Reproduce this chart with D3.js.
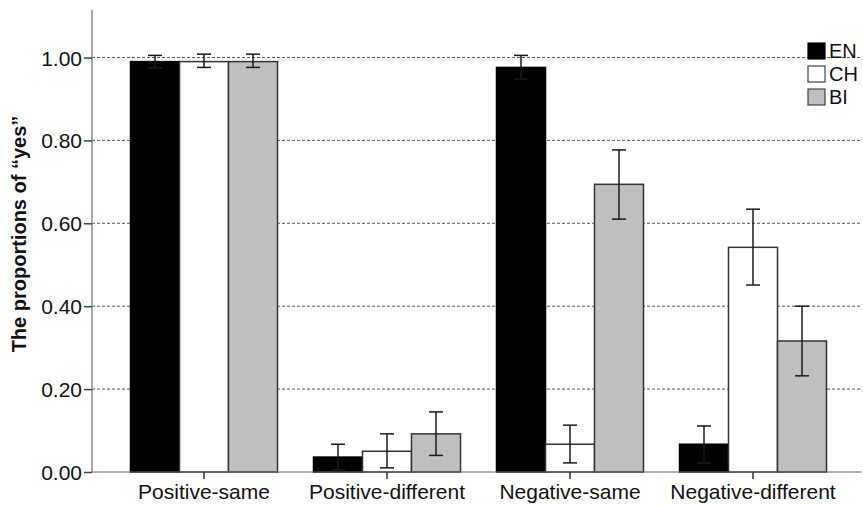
<!DOCTYPE html>
<html><head><meta charset="utf-8">
<script src="https://cdn.jsdelivr.net/npm/d3@7"></script>
<style>body{margin:0;background:#fff}</style>
</head><body><svg id="c" width="863" height="506"></svg>
<script>
const categories = ["Positive-same","Positive-different","Negative-same","Negative-different"];
const series = ["EN","CH","BI"];
const EN = [0.99, 0.036, 0.976, 0.067];
const CH = [0.99, 0.050, 0.067, 0.542];
const BI = [0.99, 0.092, 0.694, 0.316];
const EN_lo = [0.975, 0.005, 0.948, 0.022];
const EN_hi = [1.005, 0.067, 1.005, 0.111];
const CH_lo = [0.976, 0.010, 0.022, 0.451];
const CH_hi = [1.008, 0.092, 0.113, 0.634];
const BI_lo = [0.976, 0.040, 0.610, 0.232];
const BI_hi = [1.008, 0.145, 0.777, 0.400];
const yTicks = [0, 0.2, 0.4, 0.6, 0.8, 1.0];
const fills = {EN:"#000000", CH:"#ffffff", BI:"#bfbfbf"};
const vals = {EN, CH, BI};
const lo = {EN:EN_lo, CH:CH_lo, BI:BI_lo};
const hi = {EN:EN_hi, CH:CH_hi, BI:BI_hi};
const FONT = "Liberation Sans, Arial, sans-serif";

const svg = d3.select("#c");
const y = d3.scaleLinear().domain([0, 1.1145]).range([472, 10]);
const x = d3.scaleBand().domain(categories).range([112.5, 844.5]).paddingInner(0).paddingOuter(0);
const inner = d3.scaleBand().domain(series).range([0, 147]);
const gx = (c) => x(c) + (x.bandwidth() - 147) / 2;

// gridlines
svg.append("g").selectAll("line").data(yTicks.filter(d => d > 0)).join("line")
  .attr("x1", 92).attr("x2", 861).attr("y1", d => y(d)).attr("y2", d => y(d))
  .attr("stroke", "#555").attr("stroke-width", 1).attr("stroke-dasharray", "3,2");

// bars
series.forEach(s => {
  const g = svg.append("g");
  g.selectAll("rect").data(categories).join("rect")
    .attr("x", c => gx(c) + inner(s))
    .attr("width", inner.bandwidth())
    .attr("y", (c, i) => y(vals[s][i]))
    .attr("height", (c, i) => y(0) - y(vals[s][i]))
    .attr("fill", fills[s]).attr("stroke", s === "EN" ? "#000" : "#333").attr("stroke-width", 1.5);
});

// error bars
series.forEach(s => {
  const g = svg.append("g").attr("stroke-width", 1.5);
  const col = "#1a1a1a";
  categories.forEach((c, i) => {
    const cx = gx(c) + inner(s) + inner.bandwidth() / 2;
    g.append("line").attr("x1", cx).attr("x2", cx).attr("y1", y(lo[s][i])).attr("y2", y(hi[s][i])).attr("stroke", col);
    [lo[s][i], hi[s][i]].forEach(v => {
      g.append("line").attr("x1", cx - 7).attr("x2", cx + 7).attr("y1", y(v)).attr("y2", y(v)).attr("stroke", col);
    });
  });
});

// y axis
const ya = svg.append("g").attr("transform", "translate(92,0)")
  .call(d3.axisLeft(y).tickValues(yTicks).tickFormat(d3.format(".2f")).tickSize(8).tickSizeOuter(0));
ya.select(".domain").attr("stroke", "#888").attr("stroke-width", 1.5).attr("d", `M0,${y(0)}V10`);
ya.selectAll(".tick line").attr("stroke", "#444").attr("stroke-width", 1.5);
ya.selectAll(".tick text").style("font-family", FONT).style("font-size", "21px").attr("fill", "#111").attr("x", -10).attr("dy", "0.36em");

// x axis baseline
svg.append("line").attr("x1", 92).attr("x2", 861).attr("y1", y(0)).attr("y2", y(0)).attr("stroke", "#666").attr("stroke-width", 1.2);
const xa = svg.append("g").attr("transform", `translate(0,${y(0)})`)
  .call(d3.axisBottom(x).tickSize(7).tickSizeOuter(0));
xa.select(".domain").remove();
xa.selectAll(".tick line").attr("stroke", "#333").attr("stroke-width", 1.5);
xa.selectAll(".tick text").style("font-family", FONT).style("font-size", "21px").attr("fill", "#111").attr("y", 27).attr("dy", "0");

// y title
svg.append("text").attr("transform", "translate(26,234) rotate(-90)")
  .attr("text-anchor", "middle").style("font-family", FONT)
  .style("font-size", "20px").attr("font-weight", "bold").attr("fill", "#111")
  .text("The proportions of \u201cyes\u201d");

// legend
const lg = svg.append("g");
series.forEach((s, i) => {
  lg.append("rect").attr("x", 808).attr("y", 43 + i * 23).attr("width", 17).attr("height", 16)
    .attr("fill", fills[s]).attr("stroke", s === "EN" ? "#000" : "#444").attr("stroke-width", 1.2);
  lg.append("text").attr("x", 829).attr("y", 51 + i * 23).attr("dy", "0.36em")
    .style("font-family", FONT).style("font-size", "20px").attr("fill", "#111").text(s);
});
</script></body></html>
